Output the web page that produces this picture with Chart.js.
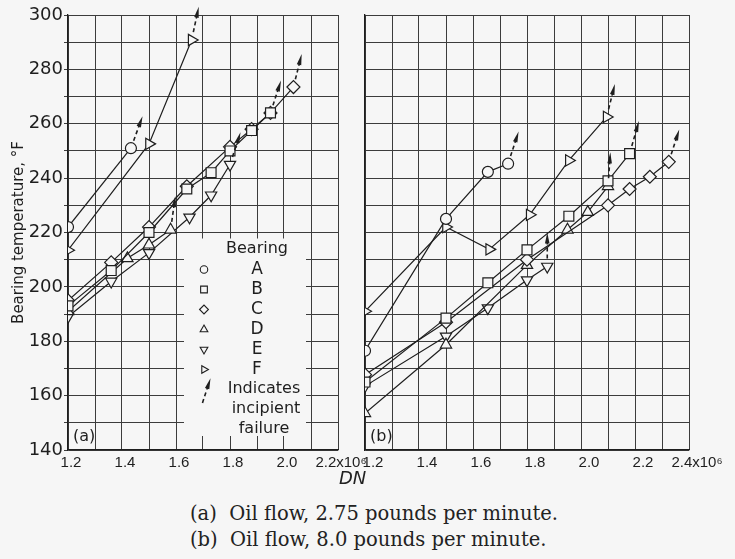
<!DOCTYPE html>
<html><head><meta charset="utf-8">
<script src="https://cdn.jsdelivr.net/npm/chart.js@4.4.0/dist/chart.umd.min.js"></script>
<style>
html,body{margin:0;padding:0;background:#f6f6f6;width:735px;height:559px;overflow:hidden;}
#cL{position:absolute;left:0;top:0;}
#cR{position:absolute;left:340px;top:0;}
.dn{position:absolute;left:339px;top:467px;font:italic 18px 'DejaVu Sans',sans-serif;color:#222;}
.cap{position:absolute;left:190px;font:19.5px 'DejaVu Serif',serif;color:#222;white-space:pre;}
</style></head>
<body>
<canvas id="cL" width="380" height="490"></canvas>
<canvas id="cR" width="395" height="490"></canvas>
<div class="dn">DN</div>
<div class="cap" style="top:502px">(a)  Oil flow, 2.75 pounds per minute.</div>
<div class="cap" style="top:528px">(b)  Oil flow, 8.0 pounds per minute.</div>
<script>
// ---- Panel (a): oil flow 2.75 lb/min ----
const dnA_a = [1.2, 1.433];
const tA_a  = [222, 251];
const dnB_a = [1.2, 1.36, 1.5, 1.64, 1.73, 1.8, 1.88, 1.95];
const tB_a  = [193, 206, 220, 236, 242, 250, 257.5, 264];
const dnC_a = [1.2, 1.36, 1.5, 1.64, 1.8, 1.88, 1.95, 2.035];
const tC_a  = [195, 209, 222, 237, 251.5, 258, 264, 273.5];
const dnD_a = [1.2, 1.42, 1.5, 1.58];
const tD_a  = [191, 210.5, 215.5, 221];
const dnE_a = [1.2, 1.36, 1.5, 1.65, 1.73, 1.8];
const tE_a  = [189, 202, 212.5, 225.6, 233.7, 245];
const dnF_a = [1.2, 1.5, 1.658];
const tF_a  = [213.5, 252.6, 290.8];

// ---- Panel (b): oil flow 8.0 lb/min ----
const dnA_b = [1.2, 1.5, 1.655, 1.73];
const tA_b  = [176.5, 225, 242.3, 245.3];
const dnB_b = [1.2, 1.5, 1.655, 1.8, 1.955, 2.1, 2.18];
const tB_b  = [165, 188.5, 201.5, 213.6, 226, 239, 249];
const dnC_b = [1.2, 1.5, 1.8, 2.1, 2.18, 2.255, 2.325];
const tC_b  = [167.7, 187, 210, 230, 236, 240.5, 246];
const dnD_b = [1.2, 1.5, 1.8, 1.95, 2.025, 2.1];
const tD_b  = [153.5, 178.7, 208, 221, 227.5, 237];
const dnE_b = [1.2, 1.5, 1.655, 1.8, 1.875];
const tE_b  = [163.5, 181.8, 192.2, 202.5, 207.5];
const dnF_b = [1.2, 1.5, 1.66, 1.81, 1.955, 2.095];
const tF_b  = [191, 222, 213.8, 226.5, 246.5, 262.5];

// axis ticks
const tempTicks = [140, 160, 180, 200, 220, 240, 260, 280, 300];
const dnTicks_a = [1.2, 1.4, 1.6, 1.8, 2.0, 2.2];
const dnTicks_b = [1.2, 1.4, 1.6, 1.8, 2.0, 2.2, 2.4];
const bearings = ['A', 'B', 'C', 'D', 'E', 'F'];

const INK = '#1e1e1e', BG = '#f6f6f6', GRID = '#3c3c3c';
const SANS = "'DejaVu Sans', sans-serif";
const XFONT = "'Liberation Sans', Arial, sans-serif";

const styles = {
  A: {pointStyle: 'circle', radius: 5.5, rot: 0},
  B: {pointStyle: 'rect', radius: 7, rot: 0},
  C: {pointStyle: 'rectRot', radius: 6.5, rot: 0},
  D: {pointStyle: 'triangle', radius: 6.5, rot: 0},
  E: {pointStyle: 'triangle', radius: 6.5, rot: 180},
  F: {pointStyle: 'triangle', radius: 6.5, rot: 90}
};

function mk(name, xs, ys, tilt) {
  const s = styles[name];
  return {
    label: name,
    data: xs.map((x, i) => ({x: x, y: ys[i]})),
    borderColor: INK, borderWidth: 1.2,
    pointStyle: s.pointStyle, pointRadius: s.radius, pointRotation: s.rot,
    pointBackgroundColor: BG, pointBorderColor: INK, pointBorderWidth: 1.2,
    tension: 0, fill: false, fails: true, arrowTilt: tilt
  };
}

function drawArrow(ctx, x, y, tiltDeg) {
  const a = tiltDeg * Math.PI / 180, sx = Math.sin(a), cy = Math.cos(a);
  const p = d => [x + sx * d, y - cy * d];
  ctx.save();
  ctx.strokeStyle = INK; ctx.lineWidth = 1.6; ctx.setLineDash([4, 3]);
  const [x0, y0] = p(8), [x1, y1] = p(24);
  ctx.beginPath(); ctx.moveTo(x0, y0); ctx.lineTo(x1, y1); ctx.stroke();
  ctx.setLineDash([]);
  const [bx, by] = p(23), [tx, ty] = p(34);
  ctx.fillStyle = INK;
  ctx.beginPath(); ctx.moveTo(tx, ty);
  ctx.lineTo(bx + cy * 2.3, by + sx * 2.3);
  ctx.lineTo(bx - cy * 2.3, by - sx * 2.3);
  ctx.closePath(); ctx.fill();
  ctx.restore();
}

const failurePlugin = {
  id: 'failurePlugin',
  afterDatasetsDraw(chart) {
    const ctx = chart.ctx;
    chart.data.datasets.forEach((ds, i) => {
      if (!ds.fails) return;
      const meta = chart.getDatasetMeta(i);
      const pt = meta.data[meta.data.length - 1];
      drawArrow(ctx, pt.x, pt.y, ds.arrowTilt);
    });
  }
};

const panelLetter = {
  id: 'panelLetter',
  afterDraw(chart, args, opts) {
    const ctx = chart.ctx, ca = chart.chartArea;
    ctx.save();
    ctx.font = '16px ' + SANS; ctx.fillStyle = INK;
    ctx.textAlign = 'left'; ctx.textBaseline = 'middle';
    ctx.fillText(opts.text, ca.left + 5, ca.bottom - 13);
    ctx.restore();
  }
};

const legendBox = {
  id: 'legendBox',
  beforeDatasetsDraw(chart) {
    const ctx = chart.ctx, xs = chart.scales.x, ys = chart.scales.y;
    const l = xs.getPixelForValue(1.6) + 8, r = xs.getPixelForValue(2.0) + 22;
    const t = ys.getPixelForValue(220) + 6, b = ys.getPixelForValue(140) - 14;
    ctx.save();
    ctx.fillStyle = BG; ctx.fillRect(l, t, r - l, b - t);
    const mx = l + 20, tx = l + 73;
    ctx.fillStyle = INK; ctx.textAlign = 'center'; ctx.textBaseline = 'middle';
    ctx.font = '16px ' + SANS;
    ctx.fillText('Bearing', tx, t + 10);
    ctx.font = '17px ' + SANS;
    bearings.forEach((name, i) => {
      const y = t + 31 + i * 20;
      const s = styles[name];
      ctx.strokeStyle = INK; ctx.lineWidth = 1.1; ctx.fillStyle = BG;
      Chart.helpers.drawPoint(ctx, {pointStyle: s.pointStyle, rotation: s.rot, radius: s.radius * 0.68, borderWidth: 1.1}, mx, y);
      ctx.fillStyle = INK;
      ctx.fillText(name, tx, y);
    });
    drawArrow(ctx, mx - 4, t + 172, 18);
    ctx.font = '16px ' + SANS;
    ctx.fillText('Indicates', tx + 7, t + 150);
    ctx.fillText('incipient', tx + 9, t + 170);
    ctx.fillText('failure', tx + 7, t + 190);
    ctx.restore();
  }
};

function tickFmt(v, ticks, max) {
  const k = Math.round(v * 10);
  if (!ticks.some(t => Math.round(t * 10) === k)) return '';
  const s = (k / 10).toFixed(1);
  return k === Math.round(max * 10) ? s + 'x10\u2076' : s;
}

function makeOptions(panel) {
  const isA = panel === 'a';
  const xmax = isA ? 2.2 : 2.4;
  const dnTicks = isA ? dnTicks_a : dnTicks_b;
  return {
    responsive: false, animation: false,
    layout: {padding: isA ? {top: 15, left: 0, right: 42, bottom: 0} : {top: 15, left: 25, right: 46, bottom: 0}},
    plugins: {legend: {display: false}, tooltip: {enabled: false}, panelLetter: {text: isA ? '(a)' : '(b)'}},
    scales: {
      x: {
        type: 'linear', min: 1.2, max: xmax,
        afterBuildTicks: s => { s.ticks = []; for (let k = 12; k <= Math.round(xmax * 10); k++) s.ticks.push({value: k / 10}); },
        ticks: {callback: v => tickFmt(v, dnTicks, xmax), font: {size: 15, family: XFONT}, color: INK, padding: 4, labelOffset: isA ? 3 : 8, maxRotation: 0, autoSkip: false},
        grid: {color: GRID, lineWidth: 1, drawTicks: false},
        border: {color: INK, width: 1.3},
        afterFit: s => { s.height = 40; }
      },
      y: {
        type: 'linear', min: 140, max: 300,
        afterBuildTicks: s => { s.ticks = []; for (let v = 140; v <= 300; v += 10) s.ticks.push({value: v}); },
        ticks: {display: isA, callback: v => (tempTicks.includes(v) ? String(v) : ''), font: {size: 18, family: SANS}, color: INK, padding: 1, autoSkip: false},
        grid: {color: GRID, lineWidth: 1, drawTicks: isA, tickLength: 4},
        border: {color: INK, width: 1.3},
        title: {display: isA, text: 'Bearing temperature, \u00B0F', font: {size: 15, family: SANS}, color: INK, padding: {top: 10, bottom: 0}},
        afterFit: s => { s.width = isA ? 68 : 0; }
      }
    }
  };
}

new Chart(document.getElementById('cL'), {
  type: 'line',
  data: {datasets: [
    mk('A', dnA_a, tA_a, 20), mk('B', dnB_a, tB_a, 18), mk('C', dnC_a, tC_a, 14),
    mk('D', dnD_a, tD_a, 8), mk('E', dnE_a, tE_a, 18), mk('F', dnF_a, tF_a, 12)
  ]},
  options: makeOptions('a'),
  plugins: [legendBox, failurePlugin, panelLetter]
});

new Chart(document.getElementById('cR'), {
  type: 'line',
  data: {datasets: [
    mk('A', dnA_b, tA_b, 18), mk('B', dnB_b, tB_b, 16), mk('C', dnC_b, tC_b, 18),
    mk('D', dnD_b, tD_b, 4), mk('E', dnE_b, tE_b, 0), mk('F', dnF_b, tF_b, 14)
  ]},
  options: makeOptions('b'),
  plugins: [failurePlugin, panelLetter]
});
</script>
</body></html>
